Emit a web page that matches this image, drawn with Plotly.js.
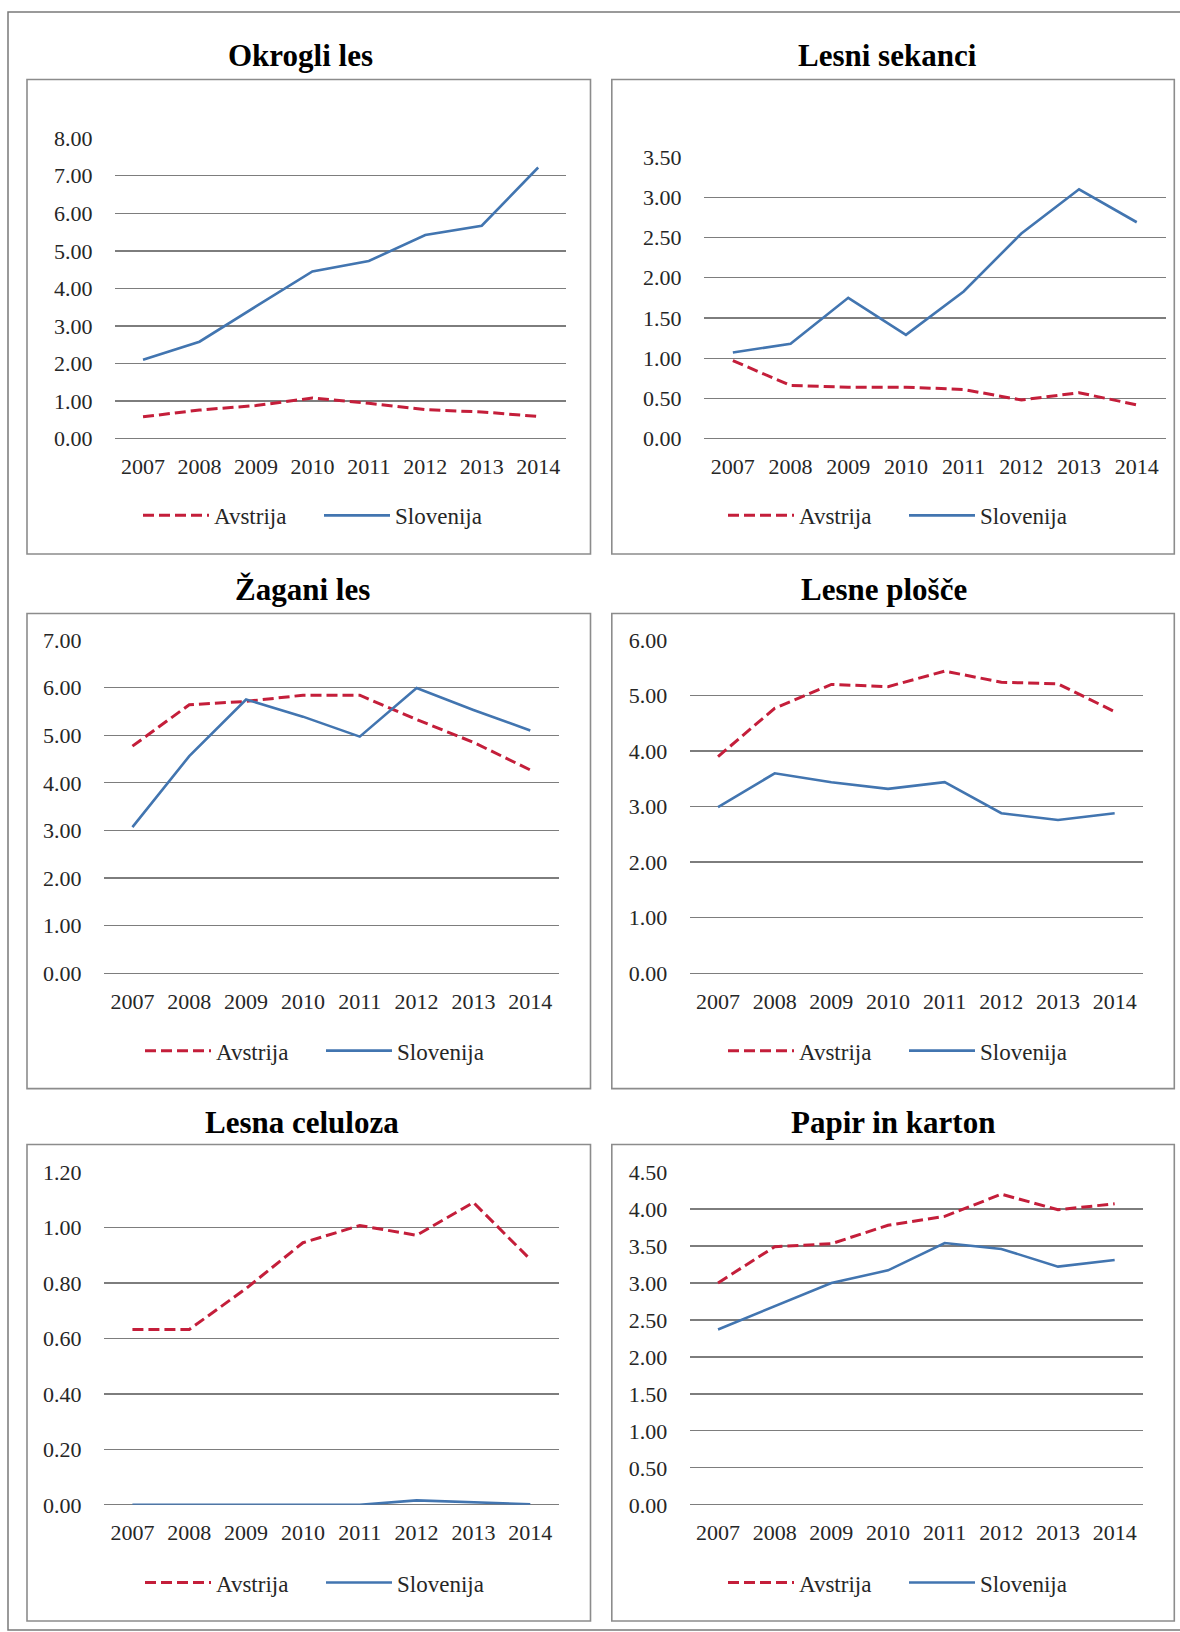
<!DOCTYPE html>
<html>
<head>
<meta charset="utf-8">
<script src="https://cdn.plot.ly/plotly-3.0.1.min.js"></script>
<style>
  html, body { margin: 0; padding: 0; background: #ffffff; }
  #chart { width: 1180px; height: 1632px; }
</style>
</head>
<body>
<div id="chart"></div>
<script>
// ---- Data ----
var years = ['2007', '2008', '2009', '2010', '2011', '2012', '2013', '2014'];
var seriesNames = ['Avstrija', 'Slovenija'];
var panelTitles = ['Okrogli les', 'Lesni sekanci', 'Žagani les', 'Lesne plošče', 'Lesna celuloza', 'Papir in karton'];

var okrogliAvstrija  = [0.58, 0.76, 0.88, 1.08, 0.94, 0.77, 0.71, 0.59];
var okrogliSlovenija = [2.10, 2.58, 3.52, 4.45, 4.73, 5.42, 5.67, 7.22];

var sekanciAvstrija  = [0.97, 0.66, 0.64, 0.64, 0.61, 0.48, 0.57, 0.42];
var sekanciSlovenija = [1.07, 1.18, 1.75, 1.29, 1.83, 2.55, 3.10, 2.69];

var zaganiAvstrija  = [4.77, 5.64, 5.71, 5.84, 5.84, 5.33, 4.85, 4.27];
var zaganiSlovenija = [3.07, 4.56, 5.75, 5.39, 4.97, 5.99, 5.53, 5.10];

var ploscheAvstrija  = [3.90, 4.77, 5.20, 5.16, 5.44, 5.24, 5.21, 4.71];
var ploscheSlovenija = [2.99, 3.60, 3.44, 3.32, 3.44, 2.88, 2.76, 2.88];

var celulozaAvstrija  = [0.632, 0.632, 0.78, 0.945, 1.007, 0.972, 1.09, 0.885];
var celulozaSlovenija = [0, 0, 0, 0, 0, 0.016, 0.009, 0.002];

var papirAvstrija  = [3.00, 3.49, 3.53, 3.78, 3.90, 4.20, 3.99, 4.07];
var papirSlovenija = [2.37, 2.69, 3.00, 3.17, 3.54, 3.46, 3.22, 3.31];

var yMax  = [8, 3.5, 7, 6, 1.2, 4.5];
var yStep = [1, 0.5, 1, 1, 0.2, 0.5];

var avstrijaData  = [okrogliAvstrija, sekanciAvstrija, zaganiAvstrija, ploscheAvstrija, celulozaAvstrija, papirAvstrija];
var slovenijaData = [okrogliSlovenija, sekanciSlovenija, zaganiSlovenija, ploscheSlovenija, celulozaSlovenija, papirSlovenija];

// ---- Layout geometry (pixels) ----
var W = 1180, H = 1632;
function px(x) { return x / W; }
function py(y) { return 1 - y / H; }

// plot areas [left, right, top, bottom]
var plotBoxes = [
  [114.8, 566.4, 138.2, 438.6],
  [704.0, 1165.6, 157.1, 438.6],
  [104.0, 558.7, 640.0, 973.2],
  [689.7, 1143.0, 640.0, 973.2],
  [104.0, 558.7, 1172.0, 1504.8],
  [689.7, 1143.0, 1172.0, 1504.8]
];
// panel frames [left, right, top, bottom]
var frames = [
  [27, 590.5, 79.5, 554],
  [611.8, 1174.3, 79.5, 554],
  [27, 590.5, 613.5, 1088.6],
  [611.8, 1174.3, 613.5, 1088.6],
  [27, 590.5, 1144.5, 1621],
  [611.8, 1174.3, 1144.5, 1621]
];
var titlePos = [[300, 55.4], [887, 55.4], [302, 589.3], [884, 589.3], [302, 1122.8], [893, 1122.8]];
var legendPos = [[319, 515.4], [904, 515.4], [321, 1050.7], [904, 1050.7], [321, 1582.6], [904, 1582.6]];

var RED = '#C41E3A';
var BLUE = '#4275B0';
var GRID = '#7d7d7d';
var FONT = 'Liberation Serif, serif';

var traces = [];
var layout = {
  width: W, height: H,
  margin: {l: 0, r: 0, t: 0, b: 0},
  paper_bgcolor: '#ffffff',
  plot_bgcolor: '#ffffff',
  font: {family: FONT, size: 22, color: '#262626'},
  annotations: [],
  shapes: []
};

// outer border (right edge lies just outside the picture, as in the reference)
layout.shapes.push({
  type: 'rect', xref: 'paper', yref: 'paper',
  x0: px(8), x1: px(1183), y0: py(1630), y1: py(12),
  line: {color: '#7a7a7a', width: 1.5}
});

for (var i = 0; i < 6; i++) {
  var n = i + 1;
  var xa = 'xaxis' + (n === 1 ? '' : n);
  var ya = 'yaxis' + (n === 1 ? '' : n);
  var xr = 'x' + (n === 1 ? '' : n);
  var yr = 'y' + (n === 1 ? '' : n);
  var lg = 'legend' + (n === 1 ? '' : n);
  var b = plotBoxes[i];

  traces.push({
    type: 'scatter', mode: 'lines',
    x: years, y: avstrijaData[i],
    name: seriesNames[0],
    xaxis: xr, yaxis: yr, legend: lg,
    line: {color: RED, width: 3, dash: '11px,5px'},
    hoverinfo: 'skip'
  });
  traces.push({
    type: 'scatter', mode: 'lines',
    x: years, y: slovenijaData[i],
    name: seriesNames[1],
    xaxis: xr, yaxis: yr, legend: lg,
    line: {color: BLUE, width: 2.6},
    hoverinfo: 'skip'
  });

  layout[xa] = {
    domain: [px(b[0]), px(b[1])],
    anchor: yr,
    type: 'category',
    categoryorder: 'array', categoryarray: years,
    range: [-0.5, 7.5],
    showgrid: false, zeroline: false, showline: false,
    ticks: 'outside', ticklen: 8, tickcolor: 'rgba(0,0,0,0)',
    tickfont: {family: FONT, size: 22, color: '#262626'},
    fixedrange: true
  };
  layout[ya] = {
    domain: [py(b[3]), py(b[2])],
    anchor: xr,
    range: [0, yMax[i]],
    dtick: yStep[i], tick0: 0,
    tickformat: '.2f',
    showgrid: true, gridcolor: GRID, gridwidth: 1.3,
    zeroline: true, zerolinecolor: GRID, zerolinewidth: 1.3,
    showline: false,
    ticks: 'outside', ticklen: 17, tickcolor: 'rgba(0,0,0,0)',
    tickfont: {family: FONT, size: 22, color: '#262626'},
    fixedrange: true
  };

  layout[lg] = {
    orientation: 'h',
    x: px(legendPos[i][0]), y: py(legendPos[i][1]),
    xanchor: 'center', yanchor: 'middle',
    bgcolor: 'rgba(0,0,0,0)',
    font: {family: FONT, size: 23, color: '#262626'},
    itemwidth: 66,
    entrywidth: 100,
    entrywidthmode: 'pixels',
    tracegroupgap: 0
  };

  var f = frames[i];
  layout.shapes.push({
    type: 'rect', xref: 'paper', yref: 'paper',
    x0: px(f[0]), x1: px(f[1]), y0: py(f[3]), y1: py(f[2]),
    line: {color: '#8c8c8c', width: 1.6},
    layer: 'below'
  });

  layout.annotations.push({
    text: '<b>' + panelTitles[i] + '</b>',
    xref: 'paper', yref: 'paper',
    x: px(titlePos[i][0]), y: py(titlePos[i][1]),
    xanchor: 'center', yanchor: 'middle',
    showarrow: false,
    font: {family: FONT, size: 31, color: '#000000'}
  });
}

Plotly.newPlot('chart', traces, layout, {staticPlot: true, displayModeBar: false});
</script>
</body>
</html>
